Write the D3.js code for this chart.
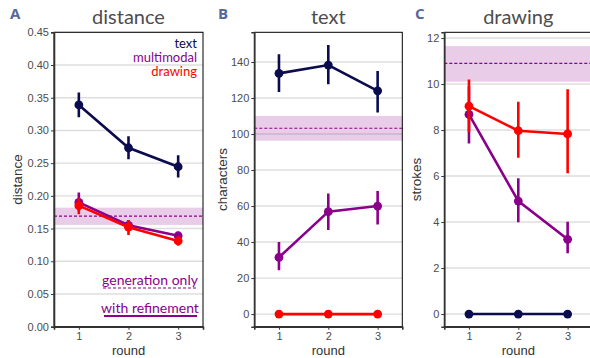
<!DOCTYPE html>
<html>
<head>
<meta charset="utf-8">
<script src="https://cdn.jsdelivr.net/npm/d3@7"></script>
<style>
  body { margin: 0; background: #fff; }
  svg { display: block; }
</style>
</head>
<body>
<script>
// rounds on the x axis
const rounds = [1, 2, 3];

// A: distance
const distText = [0.339, 0.2735, 0.2445];
const distTextLo = [0.320, 0.256, 0.228];
const distTextHi = [0.358, 0.291, 0.262];
const distMulti = [0.190, 0.155, 0.139];
const distMultiLo = [0.177, 0.147, 0.134];
const distMultiHi = [0.205, 0.163, 0.145];
const distDraw = [0.185, 0.152, 0.131];
const distDrawLo = [0.172, 0.140, 0.124];
const distDrawHi = [0.197, 0.163, 0.138];
const distBase = [0.1556, 0.169, 0.182]; // lo, mean, hi
const distTicks = [0, 0.05, 0.10, 0.15, 0.20, 0.25, 0.30, 0.35, 0.40, 0.45];

// B: characters
const charText = [133.7, 138.3, 124.0];
const charTextLo = [123.3, 127.6, 112.0];
const charTextHi = [144.3, 149.4, 135.0];
const charMulti = [31.5, 56.9, 60.0];
const charMultiLo = [24.4, 46.7, 49.8];
const charMultiHi = [40.0, 67.0, 68.3];
const charDraw = [0, 0, 0];
const charBase = [96.3, 103.2, 110.0];
const charTicks = [0, 20, 40, 60, 80, 100, 120, 140];

// C: strokes
const strokeText = [0, 0, 0];
const strokeMulti = [8.68, 4.91, 3.25];
const strokeMultiLo = [7.42, 3.99, 2.64];
const strokeMultiHi = [9.90, 5.90, 4.01];
const strokeDraw = [9.04, 7.97, 7.83];
const strokeDrawLo = [7.90, 6.80, 6.12];
const strokeDrawHi = [10.2, 9.23, 9.77];
const strokeBase = [10.1, 10.9, 11.65];
const strokeTicks = [0, 2, 4, 6, 8, 10, 12];

const colText = "#0b0b50", colMulti = "#8b008b", colDraw = "#ff0000";
const tickFont = "'Liberation Sans', Arial, sans-serif";
const titleFont = "Lato, 'Open Sans', sans-serif";

function series(mean, lo, hi, color) {
  return rounds.map(function(r, i) {
    return { x: r, y: mean[i], lo: lo ? lo[i] : null, hi: hi ? hi[i] : null, color: color };
  });
}

const panels = [
  { letter: "A", title: "distance", ylab: "distance", left: 54, right: 203,
    letterX: 10, ylabX: 17,
    domain: [0, 0.45], ticks: distTicks, fmt: d3.format(".2f"), base: distBase,
    series: [series(distText, distTextLo, distTextHi, colText),
             series(distMulti, distMultiLo, distMultiHi, colMulti),
             series(distDraw, distDrawLo, distDrawHi, colDraw)] },
  { letter: "B", title: "text", ylab: "characters", left: 254.3, right: 402.3,
    letterX: 218, ylabX: 222,
    domain: [-7, 156.5], ticks: charTicks, fmt: d3.format("d"), base: charBase,
    series: [series(charText, charTextLo, charTextHi, colText),
             series(charMulti, charMultiLo, charMultiHi, colMulti),
             series(charDraw, null, null, colDraw)] },
  { letter: "C", title: "drawing", ylab: "strokes", left: 444.3, right: 592.3,
    letterX: 415, ylabX: 416,
    domain: [-0.55, 12.25], ticks: strokeTicks, fmt: d3.format("d"), base: strokeBase,
    series: [series(strokeText, null, null, colText),
             series(strokeMulti, strokeMultiLo, strokeMultiHi, colMulti),
             series(strokeDraw, strokeDrawLo, strokeDrawHi, colDraw)] }
];

const W = 590, H = 358, plotTop = 32.3, plotBottom = 326.7;

const svg = d3.select("body").append("svg")
  .attr("width", W).attr("height", H);

const defs = svg.append("defs");

panels.forEach(function(p, pi) {
  const x = d3.scaleLinear().domain([0.5, 3.5]).range([p.left, p.right]);
  const y = d3.scaleLinear().domain(p.domain).range([plotBottom, plotTop]);
  const g = svg.append("g");
  const cx = (p.left + p.right) / 2;

  defs.append("clipPath").attr("id", "clip" + pi)
    .append("rect").attr("x", p.left).attr("y", plotTop)
    .attr("width", p.right - p.left).attr("height", plotBottom - plotTop);

  // grid
  g.append("g").selectAll("line").data(p.ticks).join("line")
    .attr("x1", p.left).attr("x2", p.right)
    .attr("y1", d => y(d)).attr("y2", d => y(d))
    .attr("stroke", "#dedede").attr("stroke-width", 1.4);

  const plot = g.append("g").attr("clip-path", "url(#clip" + pi + ")");

  // baseline band (generation only)
  plot.append("rect")
    .attr("x", p.left).attr("width", p.right - p.left)
    .attr("y", y(p.base[2])).attr("height", y(p.base[0]) - y(p.base[2]))
    .attr("fill", colMulti).attr("fill-opacity", 0.2);
  plot.append("line")
    .attr("x1", p.left).attr("x2", p.right)
    .attr("y1", y(p.base[1])).attr("y2", y(p.base[1]))
    .attr("stroke", colMulti).attr("stroke-width", 1.1)
    .attr("stroke-dasharray", "3,2");

  // series
  const line = d3.line().x(d => x(d.x)).y(d => y(d.y));
  p.series.forEach(function(s) {
    const c = s[0].color;
    plot.append("path").datum(s)
      .attr("d", line).attr("fill", "none")
      .attr("stroke", c).attr("stroke-width", 2.6);
    plot.append("g").selectAll("line").data(s.filter(d => d.lo !== null)).join("line")
      .attr("x1", d => x(d.x)).attr("x2", d => x(d.x))
      .attr("y1", d => y(d.lo)).attr("y2", d => y(d.hi))
      .attr("stroke", c).attr("stroke-width", 2.6);
    plot.append("g").selectAll("circle").data(s).join("circle")
      .attr("cx", d => x(d.x)).attr("cy", d => y(d.y)).attr("r", 4.4)
      .attr("fill", c);
  });

  // border
  g.append("rect")
    .attr("x", p.left).attr("y", plotTop)
    .attr("width", p.right - p.left).attr("height", plotBottom - plotTop)
    .attr("fill", "none").attr("stroke", "#000").attr("stroke-width", 1);

  // axes
  const ya = g.append("g").attr("transform", "translate(" + p.left + ",0)")
    .call(d3.axisLeft(y).tickValues(p.ticks).tickFormat(p.fmt).tickSize(3).tickPadding(2));
  const xa = g.append("g").attr("transform", "translate(0," + plotBottom + ")")
    .call(d3.axisBottom(x).tickValues(rounds).tickFormat(d3.format("d")).tickSize(3).tickPadding(3));
  [ya, xa].forEach(function(a) {
    a.select(".domain").attr("stroke", "#333").attr("stroke-width", 1.6);
    a.selectAll(".tick line").attr("stroke", "#333");
    a.selectAll(".tick text").attr("fill", "#4d4d4d")
      .style("font-family", tickFont).style("font-size", "11px");
  });

  // titles
  g.append("text").attr("x", cx).attr("y", 24)
    .attr("text-anchor", "middle").attr("fill", "#4d4d4d")
    .style("font-family", titleFont).style("font-size", "20px")
    .text(p.title);
  g.append("text").attr("x", p.letterX).attr("y", 19)
    .attr("fill", "#56679b").style("font-weight", "bold")
    .style("font-family", "'Open Sans', sans-serif").style("font-size", "15px")
    .text(p.letter);
  g.append("text").attr("x", cx).attr("y", 355)
    .attr("text-anchor", "middle").attr("fill", "#333")
    .style("font-family", tickFont).style("font-size", "13px")
    .text("round");
  g.append("text")
    .attr("transform", "translate(" + (p.ylabX + 4.5) + "," + ((plotTop + plotBottom) / 2) + ") rotate(-90)")
    .attr("text-anchor", "middle").attr("fill", "#333")
    .style("font-family", tickFont).style("font-size", "13.5px")
    .text(p.ylab);
});

// legend in panel A
const legItems = [["text", colText], ["multimodal", colMulti], ["drawing", colDraw]];
svg.append("g").selectAll("text").data(legItems).join("text")
  .attr("x", 197).attr("y", (d, i) => 48 + i * 14)
  .attr("text-anchor", "end").attr("fill", d => d[1])
  .style("font-family", titleFont).style("font-size", "13px")
  .text(d => d[0]);

const leg2 = svg.append("g");
leg2.append("text").attr("x", 150).attr("y", 285).attr("text-anchor", "middle")
  .attr("fill", colMulti).style("font-family", titleFont).style("font-size", "14px")
  .text("generation only");
leg2.append("line").attr("x1", 103).attr("x2", 197).attr("y1", 288).attr("y2", 288)
  .attr("stroke", colMulti).attr("stroke-width", 1.1).attr("stroke-dasharray", "3,2");
leg2.append("text").attr("x", 150).attr("y", 313).attr("text-anchor", "middle")
  .attr("fill", colMulti).style("font-family", titleFont).style("font-size", "14px")
  .text("with refinement");
leg2.append("line").attr("x1", 104).attr("x2", 197).attr("y1", 316).attr("y2", 316)
  .attr("stroke", colMulti).attr("stroke-width", 2.2);
</script>
</body>
</html>
